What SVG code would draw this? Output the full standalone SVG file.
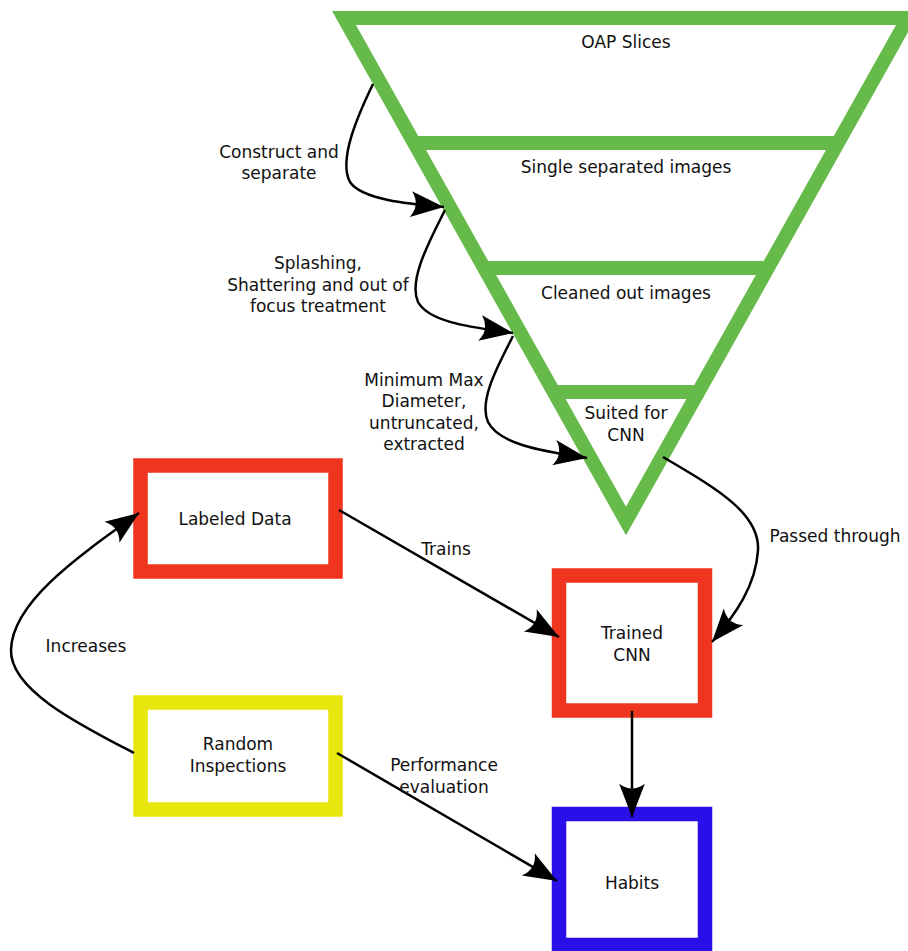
<svg xmlns="http://www.w3.org/2000/svg" width="908" height="951" viewBox="0 0 908 951">
<style>
text{font-family:"DejaVu Sans","Liberation Sans",sans-serif;font-size:17px;fill:#111;text-anchor:middle}
.box{fill:#fff;stroke-width:14.5}
.con{fill:none;stroke:#000;stroke-width:2.5}
</style>
<defs>
<marker id="ah" markerUnits="userSpaceOnUse" markerWidth="40" markerHeight="30" viewBox="-32 -14 36 28" refX="1" refY="0" orient="auto" overflow="visible">
<path d="M1,0 L-30,-12 Q-21,0 -30,12 Z" fill="#000"/>
</marker>
</defs>
<rect width="908" height="951" fill="#fff"/>
<g id="funnel">
<path d="M344,18 L908,18 L626,521 Z M414,143 L838,143 M484,268 L768,268 M553,392 L699,392" fill="none" stroke="#66ba4a" stroke-width="14" stroke-miterlimit="10"/>
<text x="626" y="48">OAP Slices</text>
<text x="626" y="173">Single separated images</text>
<text x="626" y="299">Cleaned out images</text>
<text x="626" y="419">Suited for</text>
<text x="626" y="441">CNN</text>
</g>
<g id="labeled">
<rect class="box" x="140.5" y="465.5" width="195" height="106" stroke="#ef341f"/>
<text x="235" y="525">Labeled Data</text>
</g>
<g id="random">
<rect class="box" x="140.5" y="702.5" width="195" height="107" stroke="#e8e70d"/>
<text x="238" y="750">Random</text>
<text x="238" y="772">Inspections</text>
</g>
<g id="trained">
<rect class="box" x="559" y="575.5" width="146" height="135" stroke="#ef341f"/>
<text x="632" y="639">Trained</text>
<text x="632" y="661">CNN</text>
</g>
<g id="habits">
<rect class="box" x="559" y="814" width="146" height="131" stroke="#2a10e8"/>
<text x="632" y="889">Habits</text>
</g>
<g id="connectors">
<path class="con" marker-end="url(#ah)" d="M373,84 C358,115 338,160 350,182 C362,200 410,204 444,207"/>
<path class="con" marker-end="url(#ah)" d="M445,210 C430,240 408,280 418,302 C430,324 480,328 513,333"/>
<path class="con" marker-end="url(#ah)" d="M513,336 C500,362 478,400 488,422 C500,446 550,452 587,458"/>
<path class="con" marker-end="url(#ah)" d="M663,457 C712,486 760,512 758,550 C756,586 735,615 712,642"/>
<path class="con" marker-end="url(#ah)" d="M339,510 L559,637"/>
<path class="con" marker-end="url(#ah)" d="M632,711 L632,817"/>
<path class="con" marker-end="url(#ah)" d="M337,753 L557,881"/>
<path class="con" marker-end="url(#ah)" d="M134,753 C80,725 10,690 11,650 C12,602 80,555 139,513"/>
<text x="279" y="158">Construct and</text>
<text x="279" y="179">separate</text>
<text x="318" y="269">Splashing,</text>
<text x="318" y="291">Shattering and out of</text>
<text x="318" y="312">focus treatment</text>
<text x="424" y="386">Minimum Max</text>
<text x="424" y="407">Diameter,</text>
<text x="424" y="429">untruncated,</text>
<text x="424" y="450">extracted</text>
<text x="446" y="555">Trains</text>
<text x="835" y="542">Passed through</text>
<text x="86" y="652">Increases</text>
<text x="444" y="771">Performance</text>
<text x="444" y="793">evaluation</text>
</g>
</svg>
